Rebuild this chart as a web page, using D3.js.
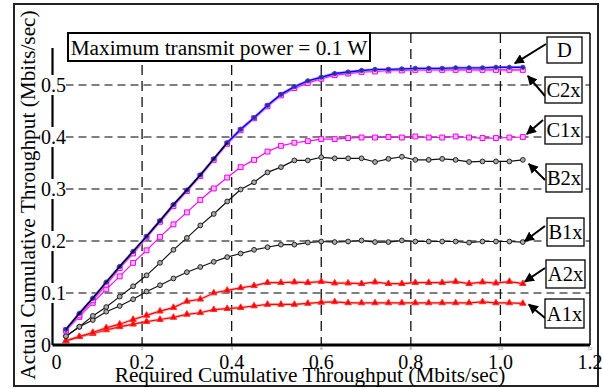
<!DOCTYPE html>
<html>
<head>
<meta charset="utf-8">
<script src="https://cdn.jsdelivr.net/npm/d3@7/dist/d3.min.js"></script>
<style>
  body { margin: 0; background: #fff; }
  svg text { font-family: "Liberation Serif", "Times New Roman", serif; }
</style>
</head>
<body>
<svg id="chart" width="602" height="388"></svg>
<script>
// required cumulative throughput (Mbits/sec), 0.03 steps
const xValues = [0.03,0.06,0.09,0.12,0.15,0.18,0.21,0.24,0.27,0.30,0.33,0.36,0.39,0.42,0.45,0.48,0.51,0.54,0.57,0.60,
  0.63,0.66,0.69,0.72,0.75,0.78,0.81,0.84,0.87,0.90,0.93,0.96,0.99,1.02,1.05];

const seriesD   = [0.030,0.061,0.090,0.121,0.151,0.180,0.209,0.239,0.270,0.298,0.327,0.358,0.389,0.415,0.437,0.461,0.482,0.497,0.508,0.515,
  0.522,0.525,0.528,0.530,0.530,0.531,0.532,0.532,0.532,0.533,0.533,0.533,0.534,0.534,0.534];
const seriesD0  = [0.030,0.061,0.090,0.121,0.151,0.180,0.209,0.239,0.270,0.298,0.327,0.358,0.389];
const seriesC2x = [0.028,0.057,0.086,0.116,0.148,0.176,0.207,0.237,0.267,0.296,0.325,0.356,0.387,0.413,0.436,0.459,0.480,0.494,0.504,0.512,
  0.519,0.522,0.525,0.526,0.528,0.528,0.529,0.529,0.529,0.529,0.529,0.529,0.529,0.529,0.529];
const seriesC1x = [0.028,0.054,0.081,0.107,0.132,0.158,0.182,0.208,0.232,0.255,0.279,0.301,0.322,0.342,0.356,0.372,0.383,0.389,0.392,0.396,
  0.396,0.398,0.399,0.399,0.400,0.399,0.401,0.399,0.399,0.401,0.399,0.398,0.398,0.399,0.400];
const seriesB2x = [0.017,0.035,0.056,0.073,0.093,0.113,0.134,0.158,0.183,0.206,0.230,0.252,0.276,0.299,0.313,0.332,0.342,0.355,0.355,0.361,
  0.359,0.359,0.359,0.352,0.358,0.362,0.356,0.356,0.358,0.356,0.352,0.353,0.353,0.353,0.356];
const seriesB1x = [0.017,0.035,0.048,0.064,0.075,0.088,0.103,0.115,0.128,0.140,0.150,0.160,0.169,0.176,0.183,0.188,0.193,0.193,0.197,0.199,
  0.198,0.199,0.201,0.198,0.198,0.201,0.199,0.199,0.199,0.199,0.197,0.199,0.199,0.199,0.198];
const seriesA2x = [0.008,0.016,0.024,0.033,0.040,0.049,0.057,0.065,0.072,0.084,0.088,0.100,0.105,0.110,0.114,0.120,0.120,0.121,0.120,0.122,
  0.119,0.119,0.118,0.121,0.118,0.118,0.120,0.120,0.120,0.122,0.118,0.121,0.119,0.122,0.118];
const seriesA1x = [0.008,0.016,0.022,0.029,0.035,0.040,0.045,0.049,0.053,0.059,0.062,0.068,0.070,0.072,0.075,0.078,0.078,0.078,0.080,0.082,
  0.083,0.081,0.081,0.081,0.081,0.081,0.081,0.081,0.081,0.081,0.081,0.083,0.081,0.081,0.080];

const yTicks = [0, 0.1, 0.2, 0.3, 0.4, 0.5];
const xTicks = [0, 0.2, 0.4, 0.6, 0.8, 1.0, 1.2];
const xTickLabels = ['0', '0.2', '0.4', '0.6', '0.8', '1.0', '1.2'];

const title = 'Maximum transmit power = 0.1 W';
const xTitle = 'Required Cumulative Throughput (Mbits/sec)';
const yTitle = 'Actual Cumulative Throughput (Mbits/sec)';

const svg = d3.select('#chart');
const plot = { left: 52.5, right: 590, top: 33, bottom: 345 };

const x = d3.scaleLinear().domain([0, 1.2]).range([plot.left, plot.right]);
const y = d3.scaleLinear().domain([0, 0.6]).range([plot.bottom, plot.top]);

// outer frame
svg.append('rect')
  .attr('x', 14).attr('y', 4).attr('width', 584).attr('height', 382)
  .attr('fill', 'none').attr('stroke', '#222').attr('stroke-width', 2);

// grid
svg.append('g').selectAll('line').data([0.1, 0.2, 0.3, 0.4, 0.5]).join('line')
  .attr('x1', plot.left).attr('x2', plot.right)
  .attr('y1', d => y(d)).attr('y2', d => y(d))
  .attr('stroke', '#555').attr('stroke-width', 1.6).attr('stroke-dasharray', '8,5');
svg.append('g').selectAll('line').data([0.2, 0.4, 0.6, 0.8, 1.0]).join('line')
  .attr('x1', d => x(d)).attr('x2', d => x(d))
  .attr('y1', plot.top).attr('y2', plot.bottom)
  .attr('stroke', '#111').attr('stroke-width', 1.3).attr('stroke-dasharray', '10,6');

// plot border (top / right)
svg.append('line').attr('x1', 68).attr('x2', plot.right).attr('y1', plot.top).attr('y2', plot.top)
  .attr('stroke', '#000').attr('stroke-width', 1.5);
svg.append('line').attr('x1', plot.right).attr('x2', plot.right).attr('y1', plot.top).attr('y2', plot.bottom)
  .attr('stroke', '#000').attr('stroke-width', 1.5);

// series
const line = d3.line().x((d, i) => x(xValues[i])).y(d => y(d));

const drawSeries = (vals, opt) => {
  const g = svg.append('g');
  if (opt.halo) {
    g.append('path').datum(vals).attr('d', line)
      .attr('fill', 'none').attr('stroke', opt.halo).attr('stroke-width', 3).attr('opacity', 0.6);
  }
  g.append('path').datum(vals).attr('d', line)
    .attr('fill', 'none').attr('stroke', opt.color).attr('stroke-width', opt.width || 1.2);
  if (!opt.marker) return;
  g.selectAll('path.m').data(vals).join('path')
    .attr('class', 'm')
    .attr('transform', (d, i) => `translate(${x(xValues[i])},${y(d)})`)
    .attr('d', d3.symbol().type(opt.marker).size(opt.size))
    .attr('fill', opt.fill).attr('stroke', opt.stroke).attr('stroke-width', 1);
};

drawSeries(seriesA1x, { color: '#f00', halo: '#f99', marker: d3.symbolTriangle, size: 18, fill: '#f00', stroke: '#f33' });
drawSeries(seriesA2x, { color: '#f00', halo: '#f99', marker: d3.symbolTriangle, size: 18, fill: '#f00', stroke: '#f33' });
drawSeries(seriesB1x, { color: '#111', marker: d3.symbolCircle, size: 18, fill: '#aaa', stroke: '#222' });
drawSeries(seriesB2x, { color: '#111', marker: d3.symbolCircle, size: 18, fill: '#aaa', stroke: '#222' });
drawSeries(seriesC1x, { color: '#f0f', marker: d3.symbolSquare, size: 24, fill: '#fbf', stroke: '#e0e' });
drawSeries(seriesC2x, { color: '#f0f', halo: '#f9f', marker: d3.symbolSquare, size: 24, fill: '#fbf', stroke: '#e0e' });
drawSeries(seriesD, { color: '#00f', halo: '#99f', width: 1.4, marker: d3.symbolCircle, size: 14, fill: '#336', stroke: '#33f' });
drawSeries(seriesD0, { color: '#000', width: 1.3 });

// axes: thick lines with labels on white patches
svg.append('line').attr('x1', plot.left).attr('x2', plot.left).attr('y1', 48).attr('y2', plot.bottom)
  .attr('stroke', '#000').attr('stroke-width', 2.2);
svg.append('line').attr('x1', plot.left).attr('x2', plot.right).attr('y1', plot.bottom).attr('y2', plot.bottom)
  .attr('stroke', '#000').attr('stroke-width', 3);

const yLab = svg.append('g');
yTicks.forEach(t => {
  const label = t === 0 ? '0' : t.toFixed(1);
  yLab.append('rect').attr('x', t === 0 ? 40 : 41).attr('y', y(t) - 10)
    .attr('width', t === 0 ? 11 : 25).attr('height', 20).attr('fill', '#fff');
  yLab.append('text').attr('x', t === 0 ? 51 : 66).attr('y', y(t) + 7)
    .attr('text-anchor', 'end').attr('font-size', 20).text(label);
});

// faint small tick numbers left over under the axis
svg.append('g').selectAll('text').data([2, 4, 6, 8, 10, 12]).join('text')
  .attr('x', d => x(d / 10)).attr('y', 350.2)
  .attr('text-anchor', 'middle').attr('font-size', 4).attr('fill', '#777')
  .style('font-family', 'DejaVu Sans').text(d => d);

const xLab = svg.append('g');
xTicks.forEach((t, i) => {
  xLab.append('text').attr('x', x(t) + (i === 0 ? 4 : 0)).attr('y', 369)
    .attr('text-anchor', 'middle').attr('font-size', 20).text(xTickLabels[i]);
});

svg.append('text').attr('x', 310).attr('y', 381.5).attr('text-anchor', 'middle')
  .attr('font-size', 21.3).text(xTitle);
svg.append('text').attr('transform', 'translate(35,195) rotate(-90)').attr('text-anchor', 'middle')
  .attr('font-size', 21.3).text(yTitle);

// title box
svg.append('rect').attr('x', 68).attr('y', 33).attr('width', 302).attr('height', 28)
  .attr('fill', '#fff').attr('stroke', '#000').attr('stroke-width', 2);
svg.append('text').attr('x', 219).attr('y', 54.5).attr('text-anchor', 'middle')
  .attr('font-size', 21.3).text(title);

// series labels with arrows
svg.append('defs').append('marker')
  .attr('id', 'arrow').attr('viewBox', '0 0 10 10').attr('refX', 9).attr('refY', 5)
  .attr('markerWidth', 5).attr('markerHeight', 5).attr('orient', 'auto')
  .append('path').attr('d', 'M0,0 L10,5 L0,10 z').attr('fill', '#000');

const labels = [
  { name: 'D',   vals: seriesD,   box: [547, 37, 35, 26], from: [546, 44], dx: -8, dy: -4 },
  { name: 'C2x', vals: seriesC2x, box: [545, 77, 37, 26], from: [545, 96], dx: 5, dy: 6 },
  { name: 'C1x', vals: seriesC1x, box: [545, 116, 37, 28], from: [543, 120], dx: 4, dy: -3 },
  { name: 'B2x', vals: seriesB2x, box: [546, 164, 36, 28], from: [545, 180], dx: 6, dy: 4 },
  { name: 'B1x', vals: seriesB1x, box: [547, 218, 37, 28], from: [545, 226], dx: 2, dy: -1 },
  { name: 'A2x', vals: seriesA2x, box: [546, 260, 39, 28], from: [545, 268], dx: 2, dy: -2 },
  { name: 'A1x', vals: seriesA1x, box: [545, 299, 39, 29], from: [545, 318], dx: 6, dy: 1 }
];

const ann = svg.append('g');
labels.forEach(l => {
  const last = l.vals.length - 1;
  const hx = x(xValues[last]) + l.dx;
  const hy = y(l.vals[last]) + l.dy;
  ann.append('line')
    .attr('x1', l.from[0]).attr('y1', l.from[1]).attr('x2', hx).attr('y2', hy)
    .attr('stroke', '#000').attr('stroke-width', 2).attr('marker-end', 'url(#arrow)');
  ann.append('rect')
    .attr('x', l.box[0]).attr('y', l.box[1]).attr('width', l.box[2]).attr('height', l.box[3])
    .attr('fill', '#fff').attr('stroke', '#000').attr('stroke-width', 1.3);
  ann.append('text')
    .attr('x', l.box[0] + l.box[2] / 2).attr('y', l.box[1] + l.box[3] / 2 + 7)
    .attr('text-anchor', 'middle').attr('font-size', 20.5).text(l.name);
});
</script>
</body>
</html>
